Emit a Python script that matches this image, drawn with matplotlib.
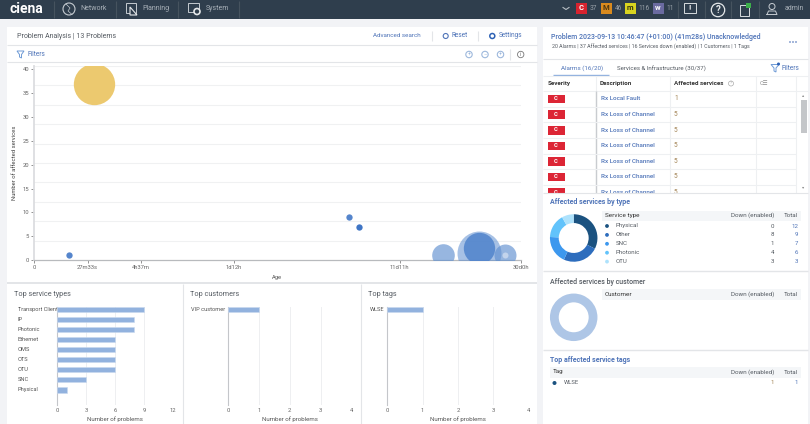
import numpy as np
import matplotlib
matplotlib.use('Agg')
import matplotlib.pyplot as plt
from matplotlib.patches import Rectangle, Circle, Polygon

plt.rcParams['font.family'] = ['Roboto', 'DejaVu Sans']

# bubble chart data
age_ticks = [0, 27.55, 277, 2160, 16500, 43200]
age_labels = ['0', '27m33s', '4h37m', '1d12h', '11d11h', '30d0h']
bubble_age = [58, 17.8, 12108, 13020, 26154, 33990, 34060, 39810, 39810]
bubble_services = [37, 1, 9, 7, 1, 1.5, 2.5, 1, 1]
bubble_size = [428, 10, 10, 10, 128, 484, 246, 121, 9]
y_ticks = [0, 5, 10, 15, 20, 25, 30, 35, 40]

# bar charts
service_types = ['Transport Client', 'IP', 'Photonic', 'Ethernet', 'OMS', 'OTS', 'OTU', 'SNC', 'Physical']
service_counts = [9, 8, 8, 6, 6, 6, 6, 3, 1]
customers = ['VIP customer']
customer_counts = [1]
tags = ['WLSE']
tag_counts = [1]

# alarm table
alarm_desc = ['Rx Local Fault'] + ['Rx Loss of Channel'] * 6
alarm_services = [1, 5, 5, 5, 5, 5, 5]

# side tables
type_names = ['Physical', 'Other', 'SNC', 'Photonic', 'OTU']
type_down = [0, 8, 1, 4, 3]
type_total = [12, 9, 7, 6, 3]
type_colors = ['#1b5280', '#2d6dbd', '#3d98ee', '#62c3fb', '#aee2fc']
customer_total = [1]
tag_down = [1]
tag_total = [1]

W, H = 810, 424
DARK = '#2f3e4d'
BLUE = '#4f74b8'
GREY = '#555b62'
LINE = '#e3e5e8'
ROWLINE = '#eef0f2'
fig = plt.figure(figsize=(W / 100, H / 100), dpi=100, facecolor='#f2f3f6')


def px_axes(l, t, r, b):
    return fig.add_axes([l / W, 1 - b / H, (r - l) / W, (b - t) / H])


# full figure layer in pixels for the page furniture
ui = fig.add_axes([0, 0, 1, 1])
ui.set_xlim(0, W)
ui.set_ylim(H, 0)
ui.axis('off')


def box(x0, y0, x1, y1, color, z=1):
    ui.add_patch(Rectangle((x0, y0), x1 - x0, y1 - y0, facecolor=color, edgecolor='none', zorder=z))


def hline(y, x0, x1, color=LINE, lw=0.8, z=2):
    ui.plot([x0, x1], [y, y], color=color, lw=lw, zorder=z, solid_capstyle='butt')


def vline(x, y0, y1, color=LINE, lw=0.8, z=2):
    ui.plot([x, x], [y0, y1], color=color, lw=lw, zorder=z, solid_capstyle='butt')


def txt(x, y, s, size=4.8, color=GREY, ha='left', weight='normal', z=6):
    ui.text(x, y, s, fontsize=size, color=color, ha=ha, va='center', fontweight=weight, zorder=z)


def ring(x, y, r, color, lw=0.8, z=6):
    ui.add_patch(Circle((x, y), r, facecolor='none', edgecolor=color, lw=lw, zorder=z))


# top bar
box(0, 0, W, 19, DARK)
txt(10, 9, 'ciena', size=10, color='white', weight='bold')
vline(53.5, 1, 18, '#46535f')
ring(69, 9, 6, '#c5cbd1')
ui.plot([66, 70, 68, 72], [4, 8, 11, 14.5], color='#c5cbd1', lw=0.5, zorder=6)
txt(80, 9, 'Network', size=5, color='#a8b0b8')
vline(115.5, 1, 18, '#46535f')
ui.add_patch(Rectangle((125.5, 3), 10, 10, facecolor='none', edgecolor='#c5cbd1', lw=0.7, zorder=6))
ui.add_patch(Polygon([[130, 7], [137, 15], [130, 15]], facecolor=DARK, edgecolor='#e5e8ea', lw=0.8, zorder=6))
txt(142.5, 9, 'Planning', size=5, color='#a8b0b8')
vline(178, 1, 18, '#46535f')
ui.add_patch(Rectangle((187.5, 3), 11, 9, facecolor='none', edgecolor='#c5cbd1', lw=0.7, zorder=6))
ui.add_patch(Circle((197, 11.5), 3, facecolor=DARK, edgecolor='#e5e8ea', lw=1.2, zorder=7))
txt(205.5, 9, 'System', size=5, color='#a8b0b8')
vline(238.5, 1, 18, '#46535f')

ui.plot([563, 566, 569], [7.5, 9.5, 7.5], color='#b8bec4', lw=0.8, zorder=6)
badge_x = [576, 600.5, 624.7, 652.7]
badge_col = ['#d8232f', '#d98a1e', '#d9d420', '#6a6aa0']
badge_txt = ['C', 'M', 'm', 'w']
badge_txc = ['white', '#4a3510', '#333310', 'white']
badge_num = ['37', '46', '116', '11']
for bx, bc, bt, btc, bn in zip(badge_x, badge_col, badge_txt, badge_txc, badge_num):
    box(bx, 3, bx + 11, 13.5, bc, z=3)
    txt(bx + 5.5, 8, bt, size=5.5, color=btc, ha='center', weight='bold')
    txt(bx + 14, 9, bn, size=4.8, color='#98a0a8')
for sx in [677.5, 704.5, 731, 759]:
    vline(sx, 1, 18, '#46535f')
ui.add_patch(Rectangle((684, 3), 12, 9.5, facecolor='none', edgecolor='#d8dcdf', lw=0.7, zorder=6))
txt(690, 7.5, '!', size=6, color='#e5e8ea', ha='center', weight='bold')
ring(718, 10, 6.7, '#e5e8ea', lw=0.9)
txt(718, 9.7, '?', size=7, color='#e5e8ea', ha='center', weight='bold')
ui.add_patch(Rectangle((739.5, 5), 9, 11, facecolor='none', edgecolor='#d8dcdf', lw=0.7, zorder=6))
box(746, 3, 750.5, 7.5, '#3cb04a', z=7)
ring(772, 6.5, 3, '#c5cbd1', lw=0.7)
ui.plot([767, 768.5, 775.5, 777, 767], [14.5, 11, 11, 14.5, 14.5], color='#c5cbd1', lw=0.7, zorder=6)
txt(785, 9, 'admin', size=5, color='#a8b0b8')

# left panel
box(7, 27, 537, H, 'white')
hline(45, 7, 537)
hline(62, 7, 537)
box(7, 282, 537, 284, LINE, z=2)
vline(182.5, 284, H)
vline(360.5, 284, H)
txt(17, 36, 'Problem Analysis | 13 Problems', size=5)
txt(373, 35.5, 'Advanced search', size=4.5, color=BLUE)
vline(431.7, 31, 41)
ring(445.7, 36, 2.5, BLUE, lw=0.8)
txt(451.5, 35.5, 'Reset', size=4.7, color=BLUE)
vline(477.7, 31, 41)
ring(492.3, 36, 2.5, '#2e62b5', lw=1.1)
txt(498.7, 35.5, 'Settings', size=4.7, color=BLUE)
ui.add_patch(Polygon([[17, 51], [24, 51], [21.5, 54.5], [21.5, 58], [19.5, 57], [19.5, 54.5]],
                     facecolor='none', edgecolor='#6f9bd6', lw=0.7, zorder=6))
txt(28, 54, 'Filters', size=4.7, color=BLUE)
for ix, sign in zip([469, 485, 500.5], ['+', '–', '+']):
    ring(ix, 54.5, 3.2, '#9db8dc', lw=0.8)
    txt(ix, 54.3, sign, size=4, color='#9db8dc', ha='center')
vline(510, 49, 60)
ring(520.7, 54.5, 3.2, '#777777', lw=0.6)
txt(520.7, 54.4, 'i', size=4, color='#777777', ha='center')

# right panel
box(543, 27, 808, H, 'white')
txt(551, 37, 'Problem 2023-09-13 10:46:47 (+01:00) (41m28s) Unacknowledged', size=5.06, color=BLUE, weight='medium')
txt(552, 46.7, '20 Alarms | 37 Affected services | 16 Services down (enabled) | 1 Customers | 1 Tags', size=3.8)
for dx in [790, 793, 796]:
    ui.add_patch(Circle((dx, 42), 0.8, facecolor=BLUE, edgecolor='none', zorder=6))
hline(59, 543, 808)
txt(561, 68.5, 'Alarms (16/20)', size=4.5, color=BLUE)
hline(75.3, 553, 609, color='#8fb0de', lw=1)
txt(617, 68.5, 'Services & Infrastructure (30/37)', size=4.4)
ui.add_patch(Polygon([[771, 64.5], [779, 64.5], [776, 68], [776, 72], [774, 71], [774, 68]],
                     facecolor='none', edgecolor='#6f9bd6', lw=0.7, zorder=6))
ui.add_patch(Circle((778.5, 64), 1.5, facecolor='#2e62b5', edgecolor='none', zorder=7))
txt(782, 68, 'Filters', size=4.7, color=BLUE)

# alarm table
hline(76, 543, 808, color=ROWLINE)
txt(548, 83.7, 'Severity', size=4.5, color='#333333', weight='bold')
txt(600, 83.7, 'Description', size=4.5, color='#333333', weight='bold')
txt(674, 83.7, 'Affected services', size=4.5, color='#333333', weight='bold')
ring(731, 83.5, 2.5, '#aaaaaa', lw=0.5)
txt(731, 83.4, '?', size=3.2, color='#aaaaaa', ha='center')
txt(760, 83.5, 'C☰', size=4, color='#888888')
hline(91, 543, 808, color=ROWLINE)
for sx in [595.5, 669.5, 755.5, 796]:
    vline(sx, 76, 193, color=ROWLINE)
vline(595.5, 91, 193, '#c9ccd0', lw=1)
for i, (d, a) in enumerate(zip(alarm_desc, alarm_services)):
    ry = 99 + i * 15.6
    box(547.5, ry - 4.3, 565, ry + 4.3, '#dc2535', z=2)
    ui.text(556, ry - 0.3, 'C', fontsize=4.2, color='white', ha='center', va='center', fontweight='bold', zorder=3)
    ui.text(601, ry, d, fontsize=4.5, color=BLUE, va='center', fontweight='medium', zorder=3)
    ui.text(674, ry, str(a), fontsize=4.7, color='#a08050', va='center', zorder=3)
    hline(ry + 7.8, 543, 796, color=ROWLINE, z=2)
box(800.7, 100, 806.5, 133, '#c4c6c9', z=3)
txt(803.5, 95.5, '▴', size=3.2, color='#888888', ha='center')
txt(803.5, 187.5, '▾', size=3.2, color='#888888', ha='center')
box(543, 192.7, 808, H, 'white', z=4)
hline(192.7, 543, 808, z=5)

# side sections
txt(550, 202.5, 'Affected services by type', size=5.0, color=BLUE, weight='bold')
box(602, 210.7, 800.7, 221, '#f4f6f8', z=5)
txt(605, 215.5, 'Service type', size=4.6, color='#333333')
txt(774, 215.5, 'Down (enabled)', size=4.5, ha='right')
txt(798, 215.5, 'Total', size=4.5, ha='right')
for i, (n, d, t, c) in enumerate(zip(type_names, type_down, type_total, type_colors)):
    ry = 226 + i * 8.9
    ui.add_patch(Circle((607, ry), 1.9, facecolor=c, edgecolor='none', zorder=6))
    txt(616, ry, n, size=4.4)
    txt(774, ry, str(d), size=4.4, ha='right')
    txt(798, ry, str(t), size=4.4, color=BLUE, ha='right')
hline(271, 543, 808, z=5, lw=1)

txt(550, 281.5, 'Affected services by customer', size=5.0, weight='medium')
box(602, 289, 800.7, 300, '#f4f6f8', z=5)
txt(605, 294, 'Customer', size=4.6, color='#333333')
txt(774, 294, 'Down (enabled)', size=4.5, ha='right')
txt(798, 294, 'Total', size=4.5, ha='right')
hline(349.7, 543, 808, z=5, lw=1)

txt(550, 359.5, 'Top affected service tags', size=5.0, color=BLUE, weight='bold')
box(550, 367, 800.7, 378, '#f4f6f8', z=5)
txt(552.5, 372, 'Tag', size=4.6, color='#333333')
txt(774, 372, 'Down (enabled)', size=4.5, ha='right')
txt(798, 372, 'Total', size=4.5, ha='right')
ui.add_patch(Circle((554.5, 383), 2, facecolor='#1b5280', edgecolor='none', zorder=6))
txt(563.5, 383, tags[0], size=4.2)
txt(774, 383, str(tag_down[0]), size=4.4, color='#a08050', ha='right')
txt(798, 383, str(tag_total[0]), size=4.4, color=BLUE, ha='right')

# donuts
ax = px_axes(549, 213.3, 598.4, 262.7)
ax.pie(type_total, colors=type_colors, startangle=90, counterclock=False, radius=1,
       wedgeprops={'width': 0.37})
ax.set_xlim(-1.04, 1.04)
ax.set_ylim(-1.04, 1.04)

ax = px_axes(549, 292.6, 598.4, 342)
ax.pie(customer_total, colors=['#aec6e6'], startangle=90, radius=1, wedgeprops={'width': 0.37})
ax.set_xlim(-1.04, 1.04)
ax.set_ylim(-1.04, 1.04)

# bubble chart, age axis is not linear so map it through the tick positions
tick_frac = [0, 0.11, 0.22, 0.41, 0.751, 1.0]


def age_fwd(v):
    return np.interp(v, age_ticks, tick_frac)


def age_inv(v):
    return np.interp(v, tick_frac, age_ticks)


ax = px_axes(34, 66, 520.7, 260)
ax.patch.set_alpha(0)
ax.set_xscale('function', functions=(age_fwd, age_inv))
ax.set_xlim(0, 43200)
ax.set_ylim(0, 40.7)
for gy in np.linspace(0, 40.7, 11)[1:]:
    ax.axhline(gy, color='#f0f1f2', lw=0.8, zorder=0)
colors = ['#ecc96f', '#5585cc', '#5585cc', '#3f75c5', '#5f8fd0', '#5f8fd0', '#4f83cc', '#5f8fd0', '#cfdcf0']
alphas = [1, 1, 1, 1, 0.65, 0.55, 0.85, 0.65, 0.8]
for a, s, z, c, al in zip(bubble_age, bubble_services, bubble_size, colors, alphas):
    ax.scatter(a, s, s=np.array(z) * 2.07, color=c, alpha=al, linewidths=0, zorder=3)
ax.set_xticks(age_ticks)
ax.set_xticklabels(age_labels)
ax.minorticks_off()
ax.set_yticks(y_ticks)
ax.tick_params(labelsize=4.2, colors='#666666', length=2, width=0.5, pad=1.5)
for sp in ['top', 'right']:
    ax.spines[sp].set_visible(False)
ax.spines['left'].set_color('#dcdde0')
ax.spines['left'].set_linewidth(1.3)
ax.spines['bottom'].set_color('#b8babd')
ax.spines['bottom'].set_linewidth(0.9)
ax.set_xlabel('Age', fontsize=4.2, color='#555555', labelpad=3.5)
ax.set_ylabel('Number of affected services', fontsize=4.2, color='#444444', labelpad=4)


def bar_panel(title, tx, box_px, names, counts, xmax, ticks, label_x=None):
    txt(tx, 294, title, size=5.2)
    l, r = box_px
    a = px_axes(l, 306.7, r, 405)
    a.patch.set_alpha(0)
    ys = np.arange(len(names))
    a.barh(ys, counts, height=0.53, color='#92b2de', edgecolor='#c9d9ef', linewidth=0.4, zorder=3)
    a.set_xlim(0, xmax)
    a.set_ylim(9.5, -0.26)
    a.set_xticks(ticks)
    a.set_yticks(ys)
    if label_x is None:
        a.set_yticklabels(names, fontsize=4.1, color='#555555')
        a.tick_params(axis='y', length=0, pad=2)
    else:
        a.set_yticklabels([''] * len(names))
        a.tick_params(axis='y', length=0)
        for yy, nm in zip(ys, names):
            ui.text(label_x, 309.3 + yy * 10.07, nm, fontsize=4.1, color='#555555', va='center', zorder=6)
    a.tick_params(axis='x', labelsize=4.2, colors='#666666', length=0, pad=2)
    a.grid(axis='x', color='#eeeff1', lw=0.7, zorder=0)
    a.set_axisbelow(True)
    for sp in ['top', 'right', 'bottom']:
        a.spines[sp].set_visible(False)
    a.spines['left'].set_color('#c4c6ca')
    a.spines['left'].set_linewidth(0.8)
    a.set_xlabel('Number of problems', fontsize=4.4, color='#555555', labelpad=2.5)


bar_panel('Top service types', 14, (57, 173), service_types, service_counts, 12, [0, 3, 6, 9, 12], label_x=18)
bar_panel('Top customers', 190.5, (228.3, 351.3), customers, customer_counts, 4, [0, 1, 2, 3, 4])
bar_panel('Top tags', 367.5, (387.3, 528.7), tags, tag_counts, 4, [0, 1, 2, 3, 4])

fig.savefig('out.png', dpi=100, facecolor=fig.get_facecolor())
